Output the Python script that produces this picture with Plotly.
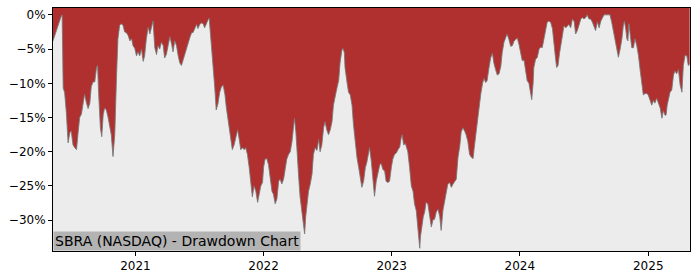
import pandas as pd
import plotly.graph_objects as go

START_DATE = "2020-05-11"
END_OFFSET_DAYS = 1815

# days since START_DATE
day_offsets = [
    0, 5, 14, 22, 26, 29, 33, 38, 43, 48, 52, 57, 62, 67, 71, 76, 81, 86, 90, 95,
    100, 105, 109, 114, 119, 124, 127, 130, 135, 139, 143, 147, 152, 157, 162, 166, 171, 176, 181, 185,
    190, 195, 200, 204, 209, 214, 219, 224, 228, 233, 238, 242, 247, 252, 257, 261, 266, 271, 276, 281,
    285, 290, 295, 299, 304, 309, 314, 318, 323, 328, 333, 338, 342, 347, 352, 356, 361, 366, 371, 375,
    380, 385, 390, 395, 399, 404, 409, 413, 418, 423, 428, 432, 437, 442, 445, 450, 454, 458, 461, 465,
    470, 475, 480, 485, 490, 494, 499, 504, 509, 511, 516, 521, 526, 530, 535, 540, 545, 549, 554, 559,
    564, 568, 573, 578, 583, 587, 592, 597, 600, 604, 609, 614, 619, 624, 628, 633, 638, 643, 647, 652,
    657, 661, 666, 671, 676, 681, 685, 688, 692, 695, 700, 704, 709, 714, 717, 720, 724, 728, 733, 738,
    742, 747, 752, 757, 761, 766, 771, 775, 780, 785, 790, 795, 799, 804, 809, 814, 818, 823, 826, 830,
    832, 837, 842, 847, 852, 856, 861, 866, 871, 875, 880, 885, 890, 894, 899, 902, 907, 911, 916, 921,
    926, 931, 935, 940, 945, 949, 954, 959, 964, 968, 973, 978, 983, 988, 992, 995, 999, 1004, 1008, 1011,
    1016, 1021, 1026, 1030, 1035, 1040, 1045, 1047, 1051, 1055, 1059, 1063, 1068, 1073, 1078, 1083, 1087, 1092, 1097, 1102,
    1106, 1111, 1116, 1120, 1125, 1130, 1135, 1140, 1144, 1149, 1154, 1159, 1163, 1168, 1173, 1177, 1182, 1187, 1192, 1197,
    1200, 1205, 1210, 1215, 1219, 1224, 1228, 1233, 1237, 1242, 1247, 1252, 1256, 1261, 1266, 1271, 1276, 1280, 1285, 1290,
    1294, 1299, 1304, 1309, 1313, 1318, 1323, 1328, 1333, 1337, 1342, 1347, 1351, 1356, 1361, 1364, 1368, 1370, 1375, 1380,
    1385, 1390, 1394, 1399, 1404, 1408, 1413, 1418, 1423, 1427, 1432, 1435, 1439, 1443, 1447, 1451, 1456, 1461, 1465, 1470,
    1475, 1480, 1485, 1489, 1494, 1499, 1504, 1508, 1513, 1518, 1522, 1527, 1532, 1537, 1542, 1546, 1551, 1556, 1561, 1565,
    1570, 1575, 1579, 1582, 1587, 1592, 1597, 1601, 1606, 1611, 1616, 1621, 1625, 1628, 1632, 1635, 1638, 1641, 1644, 1649,
    1654, 1658, 1663, 1668, 1673, 1678, 1682, 1687, 1692, 1696, 1701, 1706, 1711, 1715, 1720, 1725, 1730, 1735, 1739, 1744,
    1747, 1750, 1754, 1758, 1763, 1768, 1772, 1777, 1782, 1787, 1792, 1796, 1801, 1806, 1810, 1814,
]

# drawdown in percent
drawdown_pct = [
    -3.8, -3.0, -1.5, -0.4, 0.0, -10.7, -11.3, -14.3, -18.7, -17.2, -17.0, -19.0, -19.4, -19.7, -17.5, -15.0, -14.5, -12.5, -11.6, -12.8,
    -13.7, -12.9, -10.5, -9.8, -9.8, -7.7, -7.4, -11.5, -16.5, -17.8, -14.6, -13.6, -13.9, -15.0, -16.5, -17.5, -20.7, -17.5, -9.0, -3.5,
    -1.5, -1.3, -1.6, -2.5, -2.6, -3.0, -3.8, -3.5, -4.5, -4.9, -6.0, -5.4, -6.0, -5.0, -6.8, -6.0, -3.5, -1.8, -2.8, -1.6,
    -0.9, -4.8, -5.8, -4.5, -5.0, -4.0, -4.5, -6.3, -5.8, -4.5, -3.2, -4.3, -5.4, -3.8, -4.5, -5.8, -7.0, -7.4, -6.5, -5.7,
    -4.8, -3.8, -3.3, -2.6, -2.6, -2.0, -1.4, -2.0, -1.4, -1.2, -1.3, -1.9, -1.2, -0.7, -0.5, -3.5, -6.5, -9.0, -10.7, -13.9,
    -13.0, -11.3, -10.5, -10.3, -11.7, -13.6, -15.6, -17.5, -19.0, -19.7, -19.0, -17.8, -16.8, -18.0, -19.7, -19.4, -19.7, -19.4, -20.4, -22.3,
    -24.7, -26.6, -25.0, -25.8, -27.4, -26.2, -25.0, -24.5, -22.3, -21.1, -21.0, -21.9, -24.3, -25.8, -26.2, -27.6, -26.9, -24.3, -24.0, -24.7,
    -24.0, -22.9, -21.1, -20.4, -20.0, -18.5, -16.0, -15.1, -17.1, -20.0, -23.7, -26.6, -28.6, -30.1, -32.0, -29.5, -27.2, -25.8, -24.7, -23.3,
    -20.4, -19.4, -19.8, -18.2, -20.0, -19.0, -16.5, -15.6, -16.8, -17.5, -16.8, -15.6, -13.2, -11.7, -10.7, -9.6, -7.0, -5.2, -4.9, -5.5,
    -7.7, -9.6, -11.3, -11.7, -13.2, -16.0, -18.5, -20.8, -22.3, -23.7, -25.2, -24.3, -22.3, -21.6, -20.0, -19.4, -21.4, -24.3, -26.5, -24.3,
    -23.3, -21.9, -21.7, -22.6, -22.8, -24.3, -24.5, -24.3, -22.3, -21.1, -20.4, -20.2, -19.7, -19.3, -18.0, -17.5, -19.0, -18.8, -19.5, -20.0,
    -22.3, -25.0, -25.8, -27.6, -28.6, -31.0, -34.1, -32.4, -30.5, -29.5, -28.8, -27.4, -27.6, -29.5, -31.0, -29.9, -29.9, -28.8, -28.4, -29.5,
    -31.5, -28.6, -27.2, -26.3, -24.7, -24.5, -25.2, -24.7, -24.3, -24.0, -20.8, -19.2, -17.1, -16.5, -17.0, -17.5, -18.5, -20.4, -20.8, -21.0,
    -19.5, -17.2, -15.1, -13.3, -11.5, -10.0, -9.3, -9.9, -9.6, -7.8, -6.3, -5.6, -7.0, -8.0, -8.8, -8.6, -7.5, -5.5, -4.0, -3.3,
    -2.8, -3.6, -4.6, -4.5, -3.9, -3.6, -3.4, -4.4, -5.7, -6.7, -6.6, -8.2, -9.6, -10.0, -11.2, -12.4, -10.0, -7.7, -6.5, -6.2,
    -5.0, -4.7, -4.8, -3.5, -2.3, -1.1, -0.9, -1.1, -2.0, -4.5, -6.4, -7.7, -7.4, -5.7, -4.3, -2.6, -1.6, -1.9, -1.6, -1.4,
    -1.9, -0.6, -1.0, -2.8, -2.3, -1.3, -0.6, -0.4, -0.6, -0.4, 0.0, -0.6, -0.6, -1.1, -1.9, -2.3, -1.0, -1.9, -0.9, -0.4,
    0.0, 0.0, 0.0, 0.0, 0.0, -1.1, -2.6, -3.5, -4.9, -6.2, -5.0, -3.5, -1.6, -0.9, -2.1, -3.5, -3.8, -1.3, -2.6, -4.8,
    -4.8, -3.5, -4.4, -5.9, -8.1, -9.8, -11.7, -11.5, -11.5, -11.7, -12.4, -13.2, -12.5, -12.9, -12.2, -12.9, -13.6, -15.1, -14.0, -14.7,
    -14.6, -13.2, -12.2, -11.3, -11.0, -8.8, -8.2, -8.6, -8.0, -10.3, -11.3, -7.4, -5.9, -6.0, -7.4, -7.2,
]

y_tick_values = [0, -5, -10, -15, -20, -25, -30]
y_tick_labels = ["0%", "\u22125%", "\u221210%", "\u221215%", "\u221220%", "\u221225%", "\u221230%"]
x_tick_values = ["2021-01-01", "2022-01-01", "2023-01-01", "2024-01-01", "2025-01-01"]
x_tick_labels = ["2021", "2022", "2023", "2024", "2025"]
Y_MIN, Y_MAX = -34.5, 1.0
TITLE = "SBRA (NASDAQ) - Drawdown Chart"

start = pd.Timestamp(START_DATE)
dates = start + pd.to_timedelta(day_offsets, unit="D")
x_end = start + pd.Timedelta(days=END_OFFSET_DAYS)

RED = "#B03030"
BG = "#ECECEC"
FONT = "DejaVu Sans"

fig = go.Figure()
# top boundary of the fill (the upper edge of the axes)
fig.add_trace(go.Scatter(x=dates, y=[Y_MAX + 5] * len(dates), mode="lines",
                         line=dict(width=0, color=RED), hoverinfo="skip", showlegend=False))
fig.add_trace(go.Scatter(x=dates, y=drawdown_pct, mode="lines",
                         line=dict(width=1, color="rgba(120,120,120,0.85)"),
                         fill="tonexty", fillcolor=RED, showlegend=False))

fig.update_layout(
    width=700, height=280,
    margin=dict(l=53, r=10, t=7, b=28),
    paper_bgcolor="white", plot_bgcolor=BG,
    font=dict(family=FONT, size=12, color="black"),
    showlegend=False,
)
fig.update_xaxes(
    range=[start, x_end], tickvals=x_tick_values, ticktext=x_tick_labels,
    showgrid=False, zeroline=False, showline=True, linecolor="black", linewidth=1,
    mirror=True, ticks="outside", ticklen=4, tickcolor="black",
    tickfont=dict(family=FONT, size=12, color="black"),
)
fig.update_yaxes(
    range=[Y_MIN, Y_MAX], tickvals=y_tick_values, ticktext=y_tick_labels,
    showgrid=False, zeroline=False, showline=True, linecolor="black", linewidth=1,
    mirror=True, ticks="outside", ticklen=4, tickcolor="black",
    tickfont=dict(family=FONT, size=12, color="black"),
)
fig.add_annotation(
    text=TITLE, xref="paper", yref="paper", x=0, y=0,
    xanchor="left", yanchor="bottom", showarrow=False,
    font=dict(family=FONT, size=14, color="black"),
    bgcolor="#B3B3B3", borderpad=1, align="left",
)

fig.write_html("out.html")
